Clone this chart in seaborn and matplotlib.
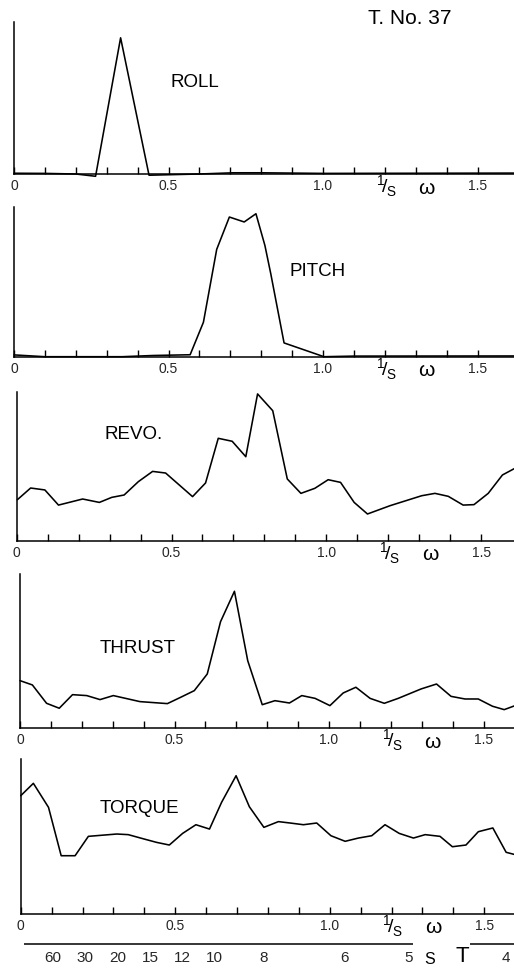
import numpy as np
import pandas as pd
import matplotlib
matplotlib.use("Agg")
import matplotlib.pyplot as plt
import seaborn as sns

# Spectra: frequency omega (1/s) and relative spectral density (axis height = 1)
roll_w = [0.0, 0.10, 0.20, 0.264, 0.345, 0.437, 0.60, 0.71, 0.80, 1.00, 1.62]
roll_v = [0.005, 0.004, 0.0, -0.015, 0.896, -0.008, 0.0, 0.008, 0.008, 0.004, 0.006]

pitch_w = [0.0, 0.10, 0.35, 0.45, 0.57, 0.613, 0.656, 0.697, 0.745, 0.783,
           0.812, 0.831, 0.874, 1.003, 1.10, 1.62]
pitch_v = [0.012, 0.0, 0.0, 0.008, 0.013, 0.23, 0.717, 0.933, 0.90, 0.955,
           0.743, 0.554, 0.092, 0.0, 0.004, 0.005]

revo_w = [0.002, 0.045, 0.091, 0.135, 0.213, 0.267, 0.307, 0.347, 0.393, 0.439,
          0.481, 0.568, 0.610, 0.651, 0.696, 0.740, 0.778, 0.827, 0.874, 0.918,
          0.963, 1.006, 1.046, 1.090, 1.133, 1.206, 1.308, 1.351, 1.394, 1.442,
          1.477, 1.523, 1.569, 1.620]
revo_v = [0.276, 0.355, 0.342, 0.240, 0.281, 0.258, 0.292, 0.308, 0.398, 0.467,
          0.456, 0.297, 0.389, 0.690, 0.670, 0.566, 0.989, 0.876, 0.416, 0.319,
          0.353, 0.411, 0.393, 0.258, 0.180, 0.236, 0.303, 0.319, 0.299, 0.240,
          0.243, 0.319, 0.443, 0.500]

thrust_w = [0.0, 0.040, 0.086, 0.127, 0.170, 0.216, 0.259, 0.302, 0.388, 0.477,
            0.520, 0.564, 0.606, 0.649, 0.694, 0.737, 0.784, 0.825, 0.872, 0.912,
            0.955, 1.003, 1.046, 1.087, 1.133, 1.179, 1.224, 1.298, 1.348, 1.395,
            1.440, 1.483, 1.529, 1.567, 1.620]
thrust_v = [0.309, 0.281, 0.162, 0.130, 0.218, 0.212, 0.186, 0.212, 0.173, 0.160,
            0.201, 0.244, 0.352, 0.691, 0.888, 0.438, 0.153, 0.179, 0.164, 0.212,
            0.194, 0.147, 0.229, 0.266, 0.194, 0.162, 0.194, 0.255, 0.287, 0.207,
            0.190, 0.190, 0.143, 0.121, 0.160]

torque_w = [0.0, 0.041, 0.090, 0.131, 0.176, 0.219, 0.311, 0.348, 0.399, 0.440,
            0.481, 0.524, 0.567, 0.611, 0.650, 0.697, 0.740, 0.787, 0.834, 0.872,
            0.915, 0.958, 1.004, 1.050, 1.093, 1.136, 1.179, 1.225, 1.271, 1.309,
            1.357, 1.397, 1.441, 1.481, 1.528, 1.571, 1.600]
torque_v = [0.763, 0.843, 0.688, 0.376, 0.376, 0.501, 0.516, 0.512, 0.484, 0.462,
            0.445, 0.520, 0.576, 0.548, 0.720, 0.892, 0.692, 0.559, 0.596, 0.587,
            0.576, 0.587, 0.505, 0.469, 0.490, 0.505, 0.576, 0.520, 0.490, 0.512,
            0.501, 0.434, 0.445, 0.531, 0.555, 0.398, 0.383]

panel_names = ["ROLL", "PITCH", "REVO.", "THRUST", "TORQUE"]
omega_labels = ["0", "0.5", "1.0", "1.5"]
period_values = [60, 30, 20, 15, 12, 10, 8, 6, 5, 4]
period_labels = ["60", "30", "20", "15", "12", "10", "8", "6", "5", "4"]

sns.set_theme(style="white")
plt.rcParams["font.family"] = ["Liberation Sans", "DejaVu Sans"]
plt.rcParams["mathtext.fontset"] = "custom"
plt.rcParams["mathtext.rm"] = "Liberation Sans"

W, H = 514, 970
fig = plt.figure(figsize=(W / 100, H / 100), dpi=100)

XMAX = 1.62
# pixel layout of each panel: left edge, baseline, top, pixels per unit omega
layout = [(14.0, 175.0, 23.0, 309.0),
          (14.0, 357.7, 208.0, 309.0),
          (16.7, 541.7, 393.3, 309.6),
          (20.0, 729.3, 575.0, 309.0),
          (20.7, 915.0, 760.0, 309.0)]
label_pos = [(0.507, 0.61), (0.893, 0.574), (0.285, 0.72), (0.259, 0.525), (0.257, 0.688)]

series = [(roll_w, roll_v), (pitch_w, pitch_v), (revo_w, revo_v),
          (thrust_w, thrust_v), (torque_w, torque_v)]

axes = []
for i, ((w, v), name, (x0, base, top, scale), (lx, ly)) in enumerate(
        zip(series, panel_names, layout, label_pos)):
    ax = fig.add_axes([x0 / W, (H - base) / H, XMAX * scale / W, (base - top) / H])
    df = pd.DataFrame({"omega": w, "S": v})
    sns.lineplot(data=df, x="omega", y="S", ax=ax, color="black", linewidth=1.15,
                 estimator=None, sort=False)
    for ln in ax.get_lines():
        ln.set_clip_on(False)
    ax.set_xlim(0, XMAX)
    ax.set_ylim(0, 1)
    ax.set_xlabel("")
    ax.set_ylabel("")
    ax.set_yticks([])
    for s in ["top", "right"]:
        ax.spines[s].set_visible(False)
    for s in ["left", "bottom"]:
        ax.spines[s].set_color("black")
        ax.spines[s].set_linewidth(1.1)
    ticks = np.round(np.arange(0, 1.51, 0.1), 1)
    ax.set_xticks(ticks)
    ax.set_xticklabels([t if t in omega_labels else ""
                        for t in [("0" if k == 0 else f"{k:.1f}") for k in ticks]])
    ax.tick_params(axis="x", direction="in", length=5, width=1.0, color="black",
                   pad=3, labelsize=10, bottom=True)
    ax.set_facecolor("none")
    ax.text(lx, ly, name, fontsize=13.5, ha="left", va="center", color="black")
    # omega axis unit label, on the row of the tick labels
    px = 1.0 / (base - top)  # one pixel in axis units
    ax.text(1.205, -11 * px, r"$^{1}\!/_{\mathrm{S}}$", fontsize=14, ha="center",
            va="center", color="black", clip_on=False)
    ax.text(1.335, -13 * px, "ω", fontsize=15, ha="center", va="center",
            color="black", clip_on=False)
    axes.append(ax)

# Period scale T (s) below the last panel, aligned with the omega axis
x0, base, top, scale = layout[-1]
tax = fig.add_axes([x0 / W, (H - 945.0) / H, XMAX * scale / W, 0.001])
tax.set_xlim(0, XMAX)
tax.set_ylim(0, 1)
tax.set_yticks([])
for s in ["top", "right", "left", "bottom"]:
    tax.spines[s].set_visible(False)
# scale line drawn in two pieces, leaving room around the T symbol
tax.hlines([0, 0], [0.01, 1.455], [1.268, XMAX], colors="black", linewidth=1.1,
           clip_on=False)
tax.set_xticks([2 * np.pi / T for T in period_values])
tax.set_xticklabels(period_labels)
tax.tick_params(axis="x", direction="in", length=5, width=1.0, color="black",
                pad=4, labelsize=11)
tax.set_facecolor("none")
# unit and symbol of the period scale, placed in pixel rows
fig.text((x0 + 1.325 * scale) / W, 1 - 960 / H, "S", fontsize=11.5, ha="center",
         va="center", color="black")
fig.text((x0 + 1.43 * scale) / W, 1 - 957 / H, "T", fontsize=16, ha="center",
         va="center", color="black")
fig.text(410 / W, 1 - 18 / H, "T. No. 37", fontsize=15, ha="center",
         va="center", color="black")

fig.savefig("out.png", dpi=100, facecolor="white")
